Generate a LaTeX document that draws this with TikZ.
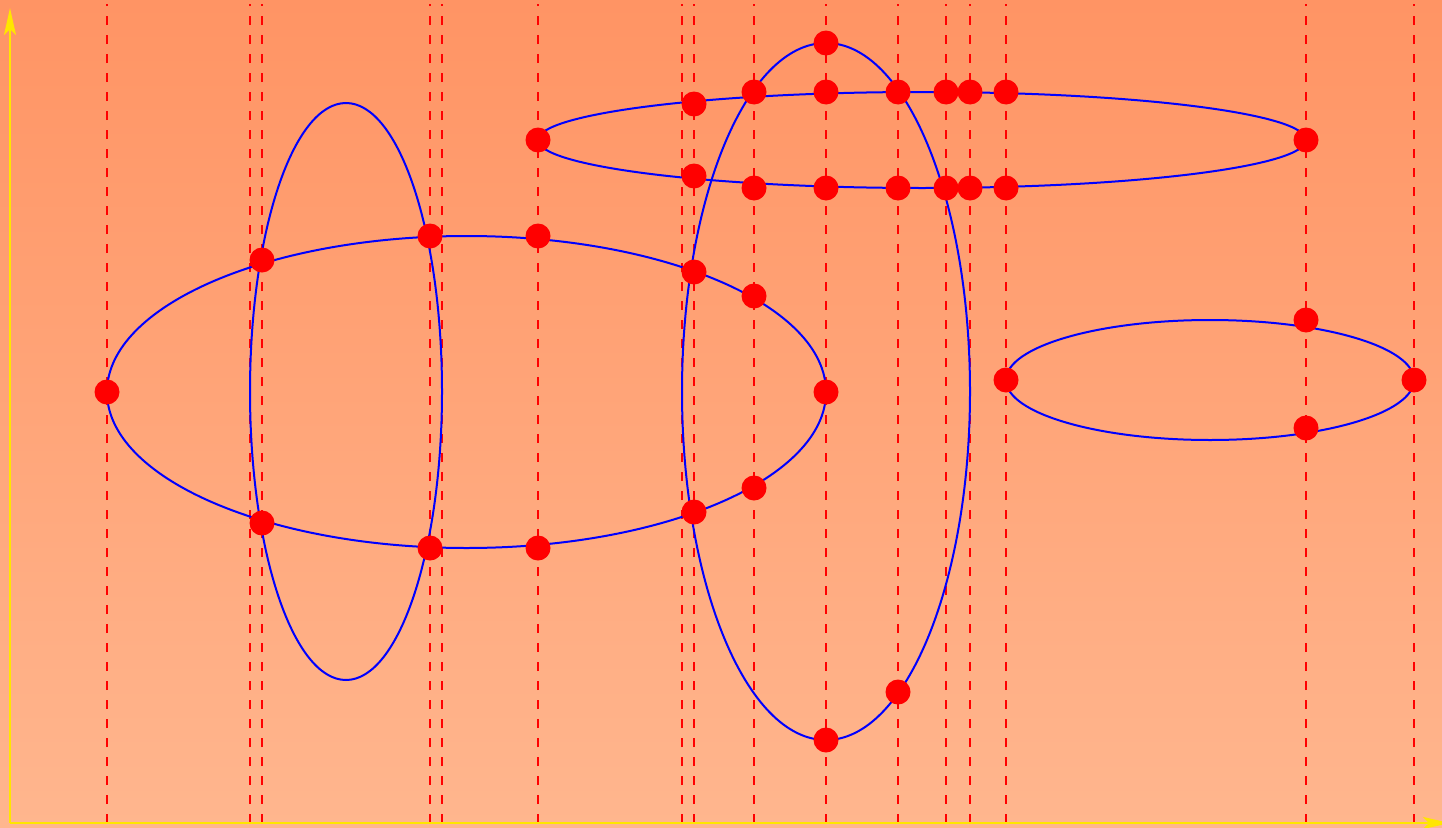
\documentclass[tikz,border=0pt]{standalone}
\usetikzlibrary{arrows.meta}
\definecolor{bgtop}{RGB}{255,148,100}
\definecolor{bgbot}{RGB}{255,182,142}
\definecolor{axisyellow}{RGB}{255,230,0}
\tikzset{
  curve/.style={draw=blue, line width=2pt},
  guide/.style={draw=red, line width=1.3pt, dash pattern=on 9pt off 10pt},
  dot/.style={circle, fill=red, inner sep=0pt, minimum size=25pt},
  axis/.style={draw=axisyellow, line width=2pt, -{Stealth[length=27pt,width=12pt,inset=6pt]}}
}
\begin{document}
\begin{tikzpicture}[x=1pt,y=-1pt]
\useasboundingbox (0,0) rectangle (1442,827);
\shade[top color=bgtop, bottom color=bgbot] (0,0) rectangle (1442,827);
% guides
\foreach \gx in {107,250,262,430,442,538,682,694,754,826,898,946,970,1006,1306,1414}
  \draw[guide] (\gx,823) -- (\gx,4);
% ellipses
\draw[curve] (466.5,392) ellipse [x radius=359.5, y radius=156];
\draw[curve] (346,391.5) ellipse [x radius=96, y radius=288.5];
\draw[curve] (826,391.5) ellipse [x radius=144, y radius=348.5];
\draw[curve] (922,140) ellipse [x radius=384, y radius=48];
\draw[curve] (1210,380) ellipse [x radius=204, y radius=60];
% axes
\coordinate (o) at (10,823);
\coordinate (ytop) at (10,8);
\coordinate (xend) at (1450,823);
\draw[axis] (o) -- (ytop);
\draw[axis] (o) -- (xend);
% dots
\node[dot] (a1) at (107,392) {};
\node[dot] (a2) at (262,260) {};
\node[dot] (a3) at (262,523) {};
\node[dot] (a4) at (430,236) {};
\node[dot] (a5) at (430,548) {};
\node[dot] (a6) at (538,236) {};
\node[dot] (a7) at (538,548) {};
\node[dot] (a8) at (694,272) {};
\node[dot] (a9) at (694,512) {};
\node[dot] (a10) at (754,296) {};
\node[dot] (a11) at (754,488) {};
\node[dot] (a12) at (826,392) {};
\node[dot] (b1) at (538,140) {};
\node[dot] (b2) at (694,104) {};
\node[dot] (b3) at (694,176) {};
\node[dot] (b4) at (754,92) {};
\node[dot] (b5) at (754,188) {};
\node[dot] (b6) at (826,43) {};
\node[dot] (b7) at (826,92) {};
\node[dot] (b8) at (826,188) {};
\node[dot] (b9) at (898,92) {};
\node[dot] (b10) at (898,188) {};
\node[dot] (b11) at (946,92) {};
\node[dot] (b12) at (946,188) {};
\node[dot] (b13) at (970,92) {};
\node[dot] (b14) at (970,188) {};
\node[dot] (b15) at (1006,92) {};
\node[dot] (b16) at (1006,188) {};
\node[dot] (b17) at (1306,140) {};
\node[dot] (c1) at (898,692) {};
\node[dot] (c2) at (826,740) {};
\node[dot] (e1) at (1006,380) {};
\node[dot] (e2) at (1306,320) {};
\node[dot] (e3) at (1306,428) {};
\node[dot] (e4) at (1414,380) {};
\end{tikzpicture}
\end{document}
